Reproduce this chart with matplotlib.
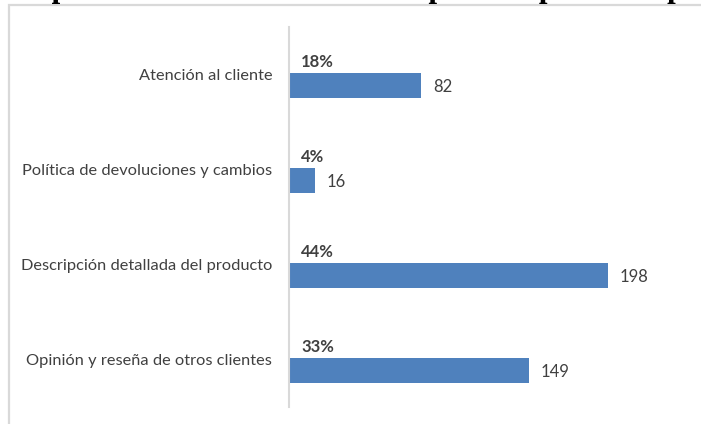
import matplotlib.pyplot as plt
from matplotlib.patches import Rectangle

categories = [
    "Atención al cliente",
    "Política de devoluciones y cambios",
    "Descripción detallada del producto",
    "Opinión y reseña de otros clientes",
]
counts = [82, 16, 198, 149]
percent_labels = ["18%", "4%", "44%", "33%"]
title = "Aspectos más valorados al comprar un producto por internet"

W, H = 701, 424
bar_color = "#4f81bd"
text_color = "#404040"
grid_gray = "#d9d9d9"
font = "Lato"

fig = plt.figure(figsize=(W / 100, H / 100), dpi=100)

# outer chart frame (runs off the right and bottom edges)
fig.patches.append(Rectangle((9 / W, -0.1), 1.2, 1 - 5 / H + 0.1,
                             transform=fig.transFigure, fill=False,
                             edgecolor=grid_gray, linewidth=1.6, clip_on=False))

# title sits above the frame, only its descenders show
fig.text(17 / W, 1 + 3.5 / H, title, ha="left", va="baseline",
         family="Liberation Serif", weight="bold", fontsize=22.4, color="black")

ax = fig.add_axes([289 / W, 1 - 407 / H, (690 - 289) / W, 380 / H])
ax.set_facecolor("none")

offset = 11 / 95
pos = [i + offset for i in range(len(categories))]
bars = ax.barh(pos, counts, height=25 / 95, color=bar_color)

ax.set_xlim(0, (690 - 289) / 1.611)
ax.set_ylim(len(categories) - 0.5, -0.5)
ax.set_yticks(range(len(categories)))
ax.set_yticklabels(categories, family=font, fontsize=11.8, color=text_color)
ax.tick_params(axis="y", length=0, pad=12)
ax.set_xticks([])

for s in ["top", "right", "bottom"]:
    ax.spines[s].set_visible(False)
ax.spines["left"].set_color(grid_gray)
ax.spines["left"].set_linewidth(1.5)

for p, c, pl in zip(pos, counts, percent_labels):
    ax.annotate(pl, (0, p), xytext=(12, 23.5), textcoords="offset pixels",
                ha="left", va="center", fontsize=12, weight="bold",
                family=font, color=text_color)
    ax.annotate(str(c), (c, p), xytext=(12, -1.5), textcoords="offset pixels",
                ha="left", va="center", fontsize=12,
                family=font, color=text_color)

fig.savefig("out.png", dpi=100)
